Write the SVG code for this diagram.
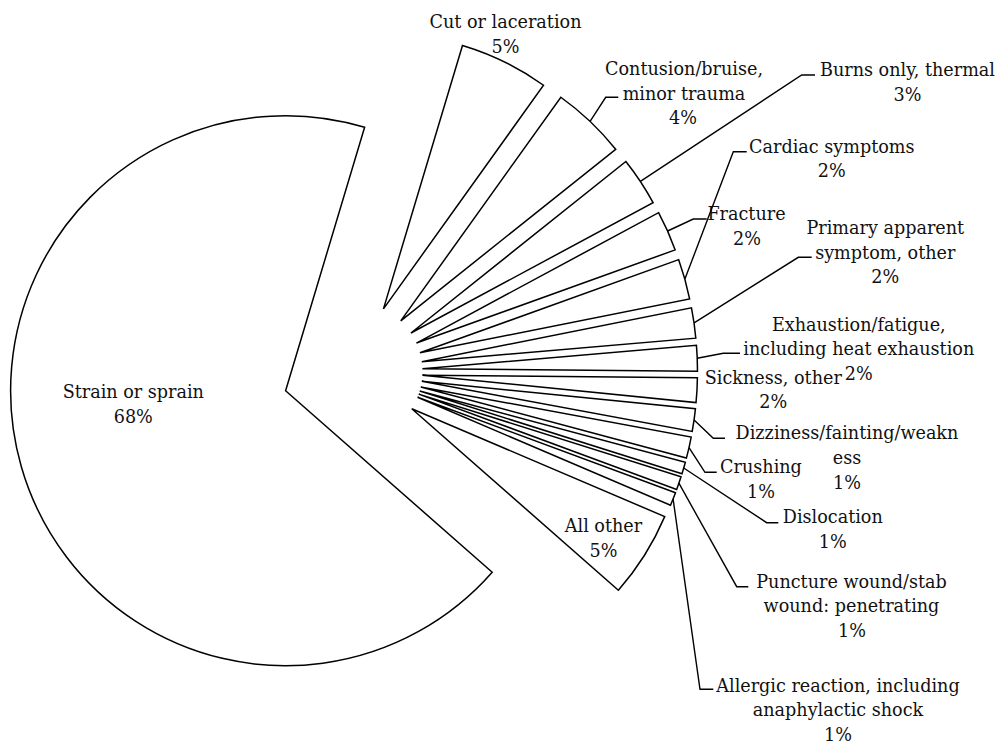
<svg xmlns="http://www.w3.org/2000/svg" width="1000" height="744" viewBox="0 0 1000 744">
<style>
.s{fill:#fff;stroke:#000;stroke-width:1.5;stroke-linejoin:miter}
.l{fill:none;stroke:#000;stroke-width:1.4}
text{font-family:"DejaVu Serif","Liberation Serif",serif;font-size:17.6px;fill:#111;text-anchor:middle}
</style>
<rect width="1000" height="744" fill="#fff"/>
<g id="strain">
<path class="s" transform="translate(352.7 371.5) rotate(254) translate(0 -69.8)" d="M0 0L-231.42 148.57A275 275 0 1 1 231.42 148.57Z"/>
<text x="133.3" y="398.3">Strain or sprain</text><text x="133.3" y="423">68%</text>
</g>
<g id="cut">
<path class="s" transform="translate(352.7 371.5) rotate(26.15) translate(0 -69.8)" d="M0 0L-45.15 -271.26A275 275 0 0 1 45.15 -271.26Z"/>
<text x="505.5" y="28.3">Cut or laceration</text><text x="505.5" y="53">5%</text>
</g>
<g id="contusion">
<path class="s" transform="translate(352.7 371.5) rotate(43.5) translate(0 -69.8)" d="M0 0L-37.8 -272.4A275 275 0 0 1 37.8 -272.4Z"/>
<text x="684" y="75">Contusion/bruise,</text><text x="684" y="99.6">minor trauma</text><text x="683" y="124.2">4%</text>
</g>
<g id="burns">
<path class="s" transform="translate(352.7 371.5) rotate(56.55) translate(0 -69.8)" d="M0 0L-24.68 -273.89A275 275 0 0 1 24.68 -273.89Z"/>
<text x="907.5" y="76">Burns only, thermal</text><text x="907.5" y="100.6">3%</text>
</g>
<g id="fracture">
<path class="s" transform="translate(352.7 371.5) rotate(65.95) translate(0 -69.8)" d="M0 0L-20.38 -274.24A275 275 0 0 1 20.38 -274.24Z"/>
<text x="746.5" y="220">Fracture</text><text x="747" y="244.6">2%</text>
</g>
<g id="cardiac">
<path class="s" transform="translate(352.7 371.5) rotate(74.45) translate(0 -69.8)" d="M0 0L-20.38 -274.24A275 275 0 0 1 20.38 -274.24Z"/>
<text x="831.8" y="152.7">Cardiac symptoms</text><text x="831.8" y="177.3">2%</text>
</g>
<g id="primary">
<path class="s" transform="translate(352.7 371.5) rotate(81.9) translate(0 -69.8)" d="M0 0L-15.35 -274.57A275 275 0 0 1 15.35 -274.57Z"/>
<text x="885.3" y="234">Primary apparent</text><text x="885.3" y="258.5">symptom, other</text><text x="885.3" y="283">2%</text>
</g>
<g id="exhaustion">
<path class="s" transform="translate(352.7 371.5) rotate(87.8) translate(0 -69.8)" d="M0 0L-12.95 -274.69A275 275 0 0 1 12.95 -274.69Z"/>
<text x="858.8" y="330.7">Exhaustion/fatigue,</text><text x="858.8" y="355.2">including heat exhaustion</text><text x="858.8" y="379.7">2%</text>
</g>
<g id="sickness">
<path class="s" transform="translate(352.7 371.5) rotate(93.1) translate(0 -69.8)" d="M0 0L-12.47 -274.72A275 275 0 0 1 12.47 -274.72Z"/>
<text x="773.3" y="383.5">Sickness, other</text><text x="773.3" y="408">2%</text>
</g>
<g id="dizziness">
<path class="s" transform="translate(352.7 371.5) rotate(98.1) translate(0 -69.8)" d="M0 0L-11.52 -274.76A275 275 0 0 1 11.52 -274.76Z"/>
<text x="847" y="439.4">Dizziness/fainting/weakn</text><text x="847" y="464">ess</text><text x="847" y="488.6">1%</text>
</g>
<g id="crushing">
<path class="s" transform="translate(352.7 371.5) rotate(102.75) translate(0 -69.8)" d="M0 0L-10.8 -274.79A275 275 0 0 1 10.8 -274.79Z"/>
<text x="761" y="473.4">Crushing</text><text x="761" y="498">1%</text>
</g>
<g id="dislocation">
<path class="s" transform="translate(352.7 371.5) rotate(106.25) translate(0 -69.8)" d="M0 0L-6 -274.93A275 275 0 0 1 6 -274.93Z"/>
<text x="832.8" y="522.9">Dislocation</text><text x="832.8" y="547.5">1%</text>
</g>
<g id="puncture">
<path class="s" transform="translate(352.7 371.5) rotate(108.9) translate(0 -69.8)" d="M0 0L-6.72 -274.92A275 275 0 0 1 6.72 -274.92Z"/>
<text x="851.5" y="587.8">Puncture wound/stab</text><text x="851.5" y="612.4">wound: penetrating</text><text x="852" y="637">1%</text>
</g>
<g id="allergic">
<path class="s" transform="translate(352.7 371.5) rotate(111.7) translate(0 -69.8)" d="M0 0L-6.72 -274.92A275 275 0 0 1 6.72 -274.92Z"/>
<text x="838" y="691.5">Allergic reaction, including</text><text x="838" y="716">anaphylactic shock</text><text x="838" y="740.5">1%</text>
</g>
<g id="allother">
<path class="s" transform="translate(352.7 371.5) rotate(122.2) translate(0 -69.8)" d="M0 0L-43.49 -271.54A275 275 0 0 1 43.49 -271.54Z"/>
<text x="603.5" y="532.3">All other</text><text x="603.5" y="557">5%</text>
</g>
<g id="connectors">
<polyline class="l" points="590.1,121.4 605.7,97.3 618.3,97.3"/>
<polyline class="l" points="640.4,181.4 801.7,75 815,75"/>
<polyline class="l" points="684.9,279.1 733.3,151.7 746.7,151.7"/>
<polyline class="l" points="667.6,231 693.3,219 706.7,219"/>
<polyline class="l" points="694.1,322.9 798.3,257.3 811.7,257.3"/>
<polyline class="l" points="697.2,358.3 723.3,353.3 740,353.3"/>
<polyline class="l" points="694.1,420.1 713.3,438.3 725,438.3"/>
<polyline class="l" points="689,447.6 705,472.3 716.7,472.3"/>
<polyline class="l" points="683.7,468 766.7,522.7 778.3,522.7"/>
<polyline class="l" points="678.9,483.2 736.7,586.7 748.3,586.7"/>
<polyline class="l" points="673.1,499 700,689.3 713.3,689.3"/>
</g>
</svg>
